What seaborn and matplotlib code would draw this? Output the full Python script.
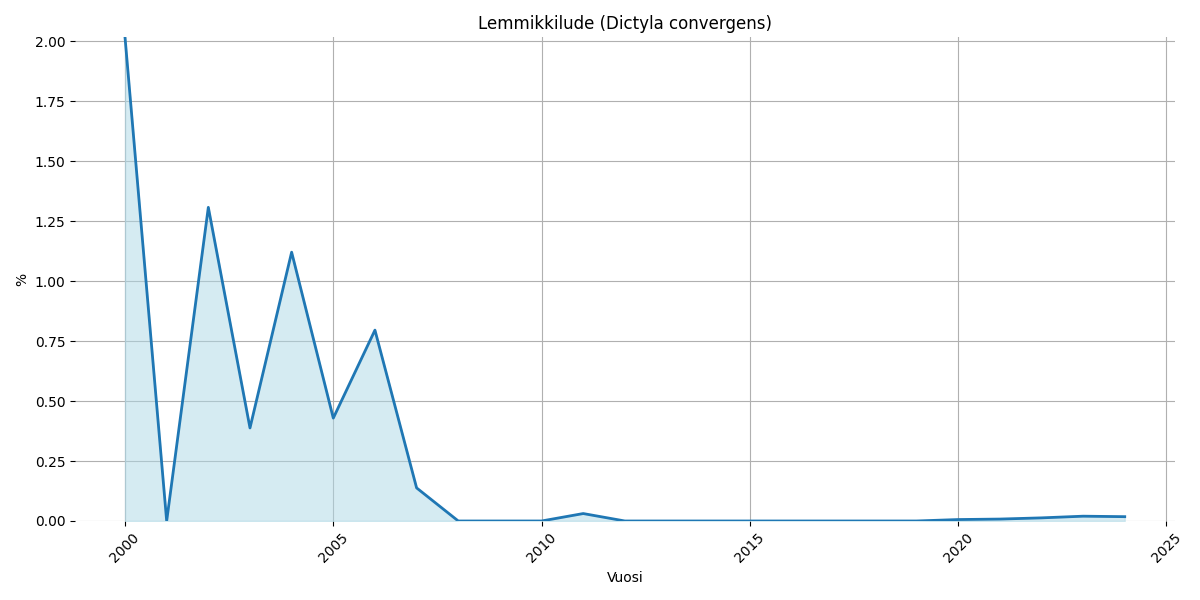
import matplotlib
matplotlib.use("Agg")
import matplotlib.pyplot as plt
import seaborn as sns
import pandas as pd

years = list(range(2000, 2025))
percent = [2.017, 0.0, 1.308, 0.388, 1.121, 0.429, 0.796, 0.138, 0.0, 0.0,
           0.0, 0.031, 0.0, 0.0, 0.0, 0.0, 0.0, 0.0, 0.0, 0.0,
           0.006, 0.008, 0.013, 0.020, 0.018]

df = pd.DataFrame({"Vuosi": years, "%": percent})

fig, ax = plt.subplots(figsize=(12, 6), dpi=100)
sns.lineplot(data=df, x="Vuosi", y="%", ax=ax, color="#1f77b4", linewidth=2)
ax.fill_between(df["Vuosi"], df["%"], color="lightblue", alpha=0.5)

ax.set_title("Lemmikkilude (Dictyla convergens)")
ax.set_ylim(0, max(percent))
ax.grid(True)
ax.set_axisbelow(True)
for s in ax.spines.values():
    s.set_visible(False)
plt.xticks(rotation=45)
plt.tight_layout()
plt.savefig("out.png")
